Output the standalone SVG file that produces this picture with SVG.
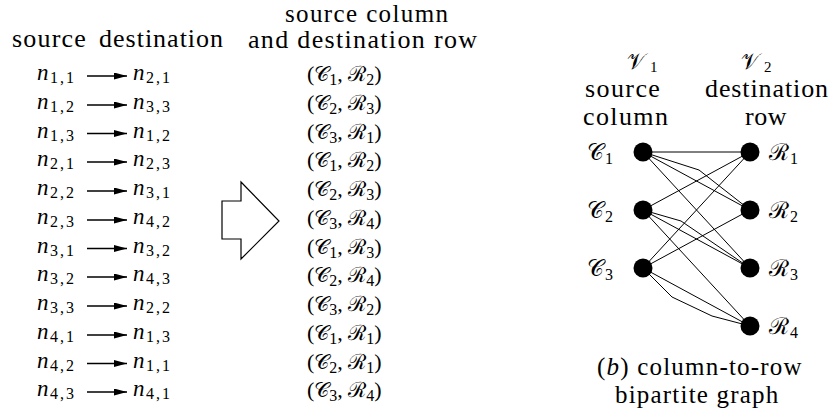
<svg xmlns="http://www.w3.org/2000/svg" width="835" height="413" viewBox="0 0 835 413">
<defs>
<marker id="ah" markerUnits="userSpaceOnUse" markerWidth="14" markerHeight="8" refX="13" refY="3.5" orient="auto">
<path d="M0,0 L13,3.5 L0,7 z" fill="#000"/>
</marker>
</defs>

<!-- headers -->
<text x="12" y="47" style="font-family:'Liberation Serif';font-size:26px;letter-spacing:1.2px">source</text>
<text x="99" y="47" style="font-family:'Liberation Serif';font-size:26px;letter-spacing:1px">destination</text>
<text x="285" y="22" textLength="163" lengthAdjust="spacing" style="font-family:'Liberation Serif';font-size:25px">source column</text>
<text x="248" y="48" textLength="229" lengthAdjust="spacing" style="font-family:'Liberation Serif';font-size:26px">and destination row</text>

<!-- left list nodes -->
<g id="src1" transform="translate(0,76)"><text x="37" y="4" style="font-family:'Liberation Serif';font-size:23px;font-style:italic">n</text><text x="50" y="7" style="font-family:'Liberation Serif';font-size:16px;letter-spacing:2px">1,1</text></g>
<g id="dst1" transform="translate(0,76)"><text x="133" y="4" style="font-family:'Liberation Serif';font-size:23px;font-style:italic">n</text><text x="146" y="7" style="font-family:'Liberation Serif';font-size:16px;letter-spacing:2px">2,1</text></g>
<g id="src2" transform="translate(0,105)"><text x="37" y="4" style="font-family:'Liberation Serif';font-size:23px;font-style:italic">n</text><text x="50" y="7" style="font-family:'Liberation Serif';font-size:16px;letter-spacing:2px">1,2</text></g>
<g id="dst2" transform="translate(0,105)"><text x="133" y="4" style="font-family:'Liberation Serif';font-size:23px;font-style:italic">n</text><text x="146" y="7" style="font-family:'Liberation Serif';font-size:16px;letter-spacing:2px">3,3</text></g>
<g id="src3" transform="translate(0,133.5)"><text x="37" y="4" style="font-family:'Liberation Serif';font-size:23px;font-style:italic">n</text><text x="50" y="7" style="font-family:'Liberation Serif';font-size:16px;letter-spacing:2px">1,3</text></g>
<g id="dst3" transform="translate(0,133.5)"><text x="133" y="4" style="font-family:'Liberation Serif';font-size:23px;font-style:italic">n</text><text x="146" y="7" style="font-family:'Liberation Serif';font-size:16px;letter-spacing:2px">1,2</text></g>
<g id="src4" transform="translate(0,162)"><text x="37" y="4" style="font-family:'Liberation Serif';font-size:23px;font-style:italic">n</text><text x="50" y="7" style="font-family:'Liberation Serif';font-size:16px;letter-spacing:2px">2,1</text></g>
<g id="dst4" transform="translate(0,162)"><text x="133" y="4" style="font-family:'Liberation Serif';font-size:23px;font-style:italic">n</text><text x="146" y="7" style="font-family:'Liberation Serif';font-size:16px;letter-spacing:2px">2,3</text></g>
<g id="src5" transform="translate(0,191)"><text x="37" y="4" style="font-family:'Liberation Serif';font-size:23px;font-style:italic">n</text><text x="50" y="7" style="font-family:'Liberation Serif';font-size:16px;letter-spacing:2px">2,2</text></g>
<g id="dst5" transform="translate(0,191)"><text x="133" y="4" style="font-family:'Liberation Serif';font-size:23px;font-style:italic">n</text><text x="146" y="7" style="font-family:'Liberation Serif';font-size:16px;letter-spacing:2px">3,1</text></g>
<g id="src6" transform="translate(0,220)"><text x="37" y="4" style="font-family:'Liberation Serif';font-size:23px;font-style:italic">n</text><text x="50" y="7" style="font-family:'Liberation Serif';font-size:16px;letter-spacing:2px">2,3</text></g>
<g id="dst6" transform="translate(0,220)"><text x="133" y="4" style="font-family:'Liberation Serif';font-size:23px;font-style:italic">n</text><text x="146" y="7" style="font-family:'Liberation Serif';font-size:16px;letter-spacing:2px">4,2</text></g>
<g id="src7" transform="translate(0,248.5)"><text x="37" y="4" style="font-family:'Liberation Serif';font-size:23px;font-style:italic">n</text><text x="50" y="7" style="font-family:'Liberation Serif';font-size:16px;letter-spacing:2px">3,1</text></g>
<g id="dst7" transform="translate(0,248.5)"><text x="133" y="4" style="font-family:'Liberation Serif';font-size:23px;font-style:italic">n</text><text x="146" y="7" style="font-family:'Liberation Serif';font-size:16px;letter-spacing:2px">3,2</text></g>
<g id="src8" transform="translate(0,277)"><text x="37" y="4" style="font-family:'Liberation Serif';font-size:23px;font-style:italic">n</text><text x="50" y="7" style="font-family:'Liberation Serif';font-size:16px;letter-spacing:2px">3,2</text></g>
<g id="dst8" transform="translate(0,277)"><text x="133" y="4" style="font-family:'Liberation Serif';font-size:23px;font-style:italic">n</text><text x="146" y="7" style="font-family:'Liberation Serif';font-size:16px;letter-spacing:2px">4,3</text></g>
<g id="src9" transform="translate(0,306)"><text x="37" y="4" style="font-family:'Liberation Serif';font-size:23px;font-style:italic">n</text><text x="50" y="7" style="font-family:'Liberation Serif';font-size:16px;letter-spacing:2px">3,3</text></g>
<g id="dst9" transform="translate(0,306)"><text x="133" y="4" style="font-family:'Liberation Serif';font-size:23px;font-style:italic">n</text><text x="146" y="7" style="font-family:'Liberation Serif';font-size:16px;letter-spacing:2px">2,2</text></g>
<g id="src10" transform="translate(0,335)"><text x="37" y="4" style="font-family:'Liberation Serif';font-size:23px;font-style:italic">n</text><text x="50" y="7" style="font-family:'Liberation Serif';font-size:16px;letter-spacing:2px">4,1</text></g>
<g id="dst10" transform="translate(0,335)"><text x="133" y="4" style="font-family:'Liberation Serif';font-size:23px;font-style:italic">n</text><text x="146" y="7" style="font-family:'Liberation Serif';font-size:16px;letter-spacing:2px">1,3</text></g>
<g id="src11" transform="translate(0,363.5)"><text x="37" y="4" style="font-family:'Liberation Serif';font-size:23px;font-style:italic">n</text><text x="50" y="7" style="font-family:'Liberation Serif';font-size:16px;letter-spacing:2px">4,2</text></g>
<g id="dst11" transform="translate(0,363.5)"><text x="133" y="4" style="font-family:'Liberation Serif';font-size:23px;font-style:italic">n</text><text x="146" y="7" style="font-family:'Liberation Serif';font-size:16px;letter-spacing:2px">1,1</text></g>
<g id="src12" transform="translate(0,392)"><text x="37" y="4" style="font-family:'Liberation Serif';font-size:23px;font-style:italic">n</text><text x="50" y="7" style="font-family:'Liberation Serif';font-size:16px;letter-spacing:2px">4,3</text></g>
<g id="dst12" transform="translate(0,392)"><text x="133" y="4" style="font-family:'Liberation Serif';font-size:23px;font-style:italic">n</text><text x="146" y="7" style="font-family:'Liberation Serif';font-size:16px;letter-spacing:2px">4,1</text></g>

<!-- big hollow arrow -->
<polygon points="241,182 279,221 241,259 241,239 222,239 222,201 241,201" fill="#fff" stroke="#000" stroke-width="1.2"/>

<!-- middle list -->
<g id="pairs" style="font-family:'Liberation Serif';font-size:22px">
<text x="307" y="81">(<tspan style="font-size:21px">𝒞</tspan><tspan style="font-size:16px" dy="4">1</tspan><tspan dy="-4">, </tspan><tspan style="font-size:21px">ℛ</tspan><tspan style="font-size:16px" dy="4">2</tspan><tspan dy="-4">)</tspan></text>
<text x="307" y="110">(<tspan style="font-size:21px">𝒞</tspan><tspan style="font-size:16px" dy="4">2</tspan><tspan dy="-4">, </tspan><tspan style="font-size:21px">ℛ</tspan><tspan style="font-size:16px" dy="4">3</tspan><tspan dy="-4">)</tspan></text>
<text x="307" y="138.5">(<tspan style="font-size:21px">𝒞</tspan><tspan style="font-size:16px" dy="4">3</tspan><tspan dy="-4">, </tspan><tspan style="font-size:21px">ℛ</tspan><tspan style="font-size:16px" dy="4">1</tspan><tspan dy="-4">)</tspan></text>
<text x="307" y="167">(<tspan style="font-size:21px">𝒞</tspan><tspan style="font-size:16px" dy="4">1</tspan><tspan dy="-4">, </tspan><tspan style="font-size:21px">ℛ</tspan><tspan style="font-size:16px" dy="4">2</tspan><tspan dy="-4">)</tspan></text>
<text x="307" y="196">(<tspan style="font-size:21px">𝒞</tspan><tspan style="font-size:16px" dy="4">2</tspan><tspan dy="-4">, </tspan><tspan style="font-size:21px">ℛ</tspan><tspan style="font-size:16px" dy="4">3</tspan><tspan dy="-4">)</tspan></text>
<text x="307" y="225">(<tspan style="font-size:21px">𝒞</tspan><tspan style="font-size:16px" dy="4">3</tspan><tspan dy="-4">, </tspan><tspan style="font-size:21px">ℛ</tspan><tspan style="font-size:16px" dy="4">4</tspan><tspan dy="-4">)</tspan></text>
<text x="307" y="253.5">(<tspan style="font-size:21px">𝒞</tspan><tspan style="font-size:16px" dy="4">1</tspan><tspan dy="-4">, </tspan><tspan style="font-size:21px">ℛ</tspan><tspan style="font-size:16px" dy="4">3</tspan><tspan dy="-4">)</tspan></text>
<text x="307" y="282">(<tspan style="font-size:21px">𝒞</tspan><tspan style="font-size:16px" dy="4">2</tspan><tspan dy="-4">, </tspan><tspan style="font-size:21px">ℛ</tspan><tspan style="font-size:16px" dy="4">4</tspan><tspan dy="-4">)</tspan></text>
<text x="307" y="311">(<tspan style="font-size:21px">𝒞</tspan><tspan style="font-size:16px" dy="4">3</tspan><tspan dy="-4">, </tspan><tspan style="font-size:21px">ℛ</tspan><tspan style="font-size:16px" dy="4">2</tspan><tspan dy="-4">)</tspan></text>
<text x="307" y="340">(<tspan style="font-size:21px">𝒞</tspan><tspan style="font-size:16px" dy="4">1</tspan><tspan dy="-4">, </tspan><tspan style="font-size:21px">ℛ</tspan><tspan style="font-size:16px" dy="4">1</tspan><tspan dy="-4">)</tspan></text>
<text x="307" y="368.5">(<tspan style="font-size:21px">𝒞</tspan><tspan style="font-size:16px" dy="4">2</tspan><tspan dy="-4">, </tspan><tspan style="font-size:21px">ℛ</tspan><tspan style="font-size:16px" dy="4">1</tspan><tspan dy="-4">)</tspan></text>
<text x="307" y="397">(<tspan style="font-size:21px">𝒞</tspan><tspan style="font-size:16px" dy="4">3</tspan><tspan dy="-4">, </tspan><tspan style="font-size:21px">ℛ</tspan><tspan style="font-size:16px" dy="4">4</tspan><tspan dy="-4">)</tspan></text>
</g>

<!-- right header -->
<text x="627" y="69" style="font-family:'Liberation Serif';font-size:22px">𝒱<tspan style="font-size:15px" dx="5" dy="3">1</tspan></text>
<text x="741" y="69" style="font-family:'Liberation Serif';font-size:22px">𝒱<tspan style="font-size:15px" dx="5" dy="3">2</tspan></text>
<text x="585" y="97" style="font-family:'Liberation Serif';font-size:26px;letter-spacing:1.4px">source</text>
<text x="583" y="125" style="font-family:'Liberation Serif';font-size:26px;letter-spacing:1.4px">column</text>
<text x="705" y="97" style="font-family:'Liberation Serif';font-size:26px;letter-spacing:0.9px">destination</text>
<text x="745" y="125" style="font-family:'Liberation Serif';font-size:26px;letter-spacing:0.5px">row</text>

<!-- connectors -->
<g id="connectors" stroke="#000" fill="none">
<g stroke-width="1.3" marker-end="url(#ah)">
<line x1="87" y1="76" x2="127" y2="76"/>
<line x1="87" y1="105" x2="127" y2="105"/>
<line x1="87" y1="133.5" x2="127" y2="133.5"/>
<line x1="87" y1="162" x2="127" y2="162"/>
<line x1="87" y1="191" x2="127" y2="191"/>
<line x1="87" y1="220" x2="127" y2="220"/>
<line x1="87" y1="248.5" x2="127" y2="248.5"/>
<line x1="87" y1="277" x2="127" y2="277"/>
<line x1="87" y1="306" x2="127" y2="306"/>
<line x1="87" y1="335" x2="127" y2="335"/>
<line x1="87" y1="363.5" x2="127" y2="363.5"/>
<line x1="87" y1="392" x2="127" y2="392"/>
</g>
<g stroke-width="1">
<line x1="643" y1="152" x2="750" y2="152"/>
<line x1="643" y1="152" x2="750" y2="210"/>
<polyline points="643,152 699,170 750,210"/>
<line x1="643" y1="152" x2="750" y2="268"/>
<line x1="643" y1="210" x2="750" y2="152"/>
<line x1="643" y1="210" x2="750" y2="268"/>
<polyline points="643,210 681,221 750,268"/>
<line x1="643" y1="210" x2="750" y2="326"/>
<line x1="643" y1="268" x2="750" y2="152"/>
<line x1="643" y1="268" x2="750" y2="210"/>
<line x1="643" y1="268" x2="750" y2="326"/>
<polyline points="643,268 672,297 712,316 750,326"/>
</g>
</g>

<!-- bipartite nodes -->
<g id="C1"><circle cx="643" cy="152" r="9.5"/><text x="587" y="160" style="font-family:'Liberation Serif';font-size:23px">𝒞<tspan style="font-size:16px" dx="1" dy="4">1</tspan></text></g>
<g id="C2"><circle cx="643" cy="210" r="9.5"/><text x="587" y="218" style="font-family:'Liberation Serif';font-size:23px">𝒞<tspan style="font-size:16px" dx="1" dy="4">2</tspan></text></g>
<g id="C3"><circle cx="643" cy="268" r="9.5"/><text x="587" y="276" style="font-family:'Liberation Serif';font-size:23px">𝒞<tspan style="font-size:16px" dx="1" dy="4">3</tspan></text></g>
<g id="R1"><circle cx="750" cy="152" r="9.5"/><text x="769" y="160" style="font-family:'Liberation Serif';font-size:23px">ℛ<tspan style="font-size:16px" dx="1" dy="4">1</tspan></text></g>
<g id="R2"><circle cx="750" cy="210" r="9.5"/><text x="769" y="218" style="font-family:'Liberation Serif';font-size:23px">ℛ<tspan style="font-size:16px" dx="1" dy="4">2</tspan></text></g>
<g id="R3"><circle cx="750" cy="268" r="9.5"/><text x="769" y="276" style="font-family:'Liberation Serif';font-size:23px">ℛ<tspan style="font-size:16px" dx="1" dy="4">3</tspan></text></g>
<g id="R4"><circle cx="750" cy="326" r="9.5"/><text x="769" y="334" style="font-family:'Liberation Serif';font-size:23px">ℛ<tspan style="font-size:16px" dx="1" dy="4">4</tspan></text></g>

<!-- caption -->
<text x="597" y="375" style="font-family:'Liberation Serif';font-size:25px;letter-spacing:1.2px">(<tspan style="font-style:italic">b</tspan>) column-to-row</text>
<text x="615" y="403" style="font-family:'Liberation Serif';font-size:25px;letter-spacing:1.2px">bipartite graph</text>
</svg>
